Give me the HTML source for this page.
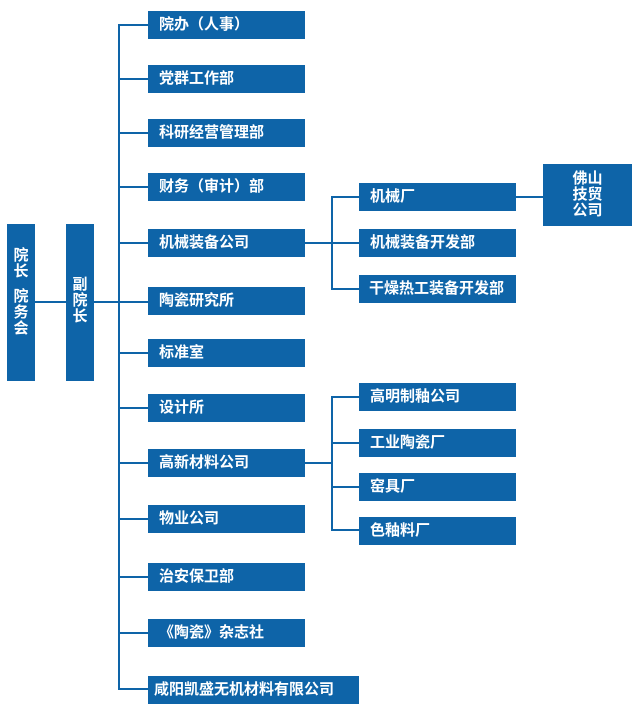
<!DOCTYPE html>
<html><head><meta charset="utf-8"><style>
html,body{margin:0;padding:0;background:#fff;}
body{width:638px;height:713px;position:relative;overflow:hidden;font-family:"Liberation Sans","Noto Sans CJK SC",sans-serif;}
.b{position:absolute;background:#0e64a8;color:#fff;font-weight:bold;font-size:15px;line-height:28px;height:28px;box-sizing:border-box;padding-left:11px;white-space:nowrap;}
.v{position:absolute;background:#0e64a8;color:#fff;font-weight:bold;font-size:15px;line-height:16px;text-align:center;}
.l{position:absolute;background:#0e64a8;}
</style></head><body>
<div class="v" style="left:7px;top:224px;width:28px;height:157px;"><div style="padding-top:24px">院<br>长<br><div style="height:9px"></div>院<br>务<br>会</div></div>
<div class="v" style="left:66px;top:224px;width:28px;height:157px;"><div style="padding-top:53px">副<br>院<br>长</div></div>
<div class="l" style="left:35px;top:301px;width:31px;height:2px;"></div>
<div class="l" style="left:94px;top:301px;width:54px;height:2px;"></div>
<div class="l" style="left:118px;top:24px;width:2px;height:666px;"></div>

<div class="l" style="left:118px;top:24px;width:30px;height:2px;"></div><div class="b" style="left:148px;top:11px;width:157px;">院办（人事）</div>
<div class="l" style="left:118px;top:78px;width:30px;height:2px;"></div><div class="b" style="left:148px;top:65px;width:157px;">党群工作部</div>
<div class="l" style="left:118px;top:132px;width:30px;height:2px;"></div><div class="b" style="left:148px;top:119px;width:157px;">科研经营管理部</div>
<div class="l" style="left:118px;top:186px;width:30px;height:2px;"></div><div class="b" style="left:148px;top:173px;width:157px;">财务（审计）部</div>
<div class="l" style="left:118px;top:242px;width:30px;height:2px;"></div><div class="b" style="left:148px;top:229px;width:157px;">机械装备公司</div>
<div class="b" style="left:148px;top:287px;width:157px;">陶瓷研究所</div>
<div class="l" style="left:118px;top:352px;width:30px;height:2px;"></div><div class="b" style="left:148px;top:339px;width:157px;">标准室</div>
<div class="l" style="left:118px;top:407px;width:30px;height:2px;"></div><div class="b" style="left:148px;top:394px;width:157px;">设计所</div>
<div class="l" style="left:118px;top:462px;width:30px;height:2px;"></div><div class="b" style="left:148px;top:449px;width:157px;">高新材料公司</div>
<div class="l" style="left:118px;top:518px;width:30px;height:2px;"></div><div class="b" style="left:148px;top:505px;width:157px;">物业公司</div>
<div class="l" style="left:118px;top:576px;width:30px;height:2px;"></div><div class="b" style="left:148px;top:563px;width:157px;">治安保卫部</div>
<div class="l" style="left:118px;top:632px;width:30px;height:2px;"></div><div class="b" style="left:148px;top:619px;width:157px;">《陶瓷》杂志社</div>
<div class="l" style="left:118px;top:688px;width:30px;height:2px;"></div><div class="b" style="left:148px;top:676px;width:211px;padding-left:6px;">咸阳凯盛无机材料有限公司</div>

<div class="l" style="left:305px;top:242px;width:27px;height:2px;"></div>
<div class="l" style="left:331px;top:196px;width:2px;height:94px;"></div>
<div class="l" style="left:331px;top:196px;width:28px;height:2px;"></div><div class="b" style="left:359px;top:183px;width:157px;">机械厂</div>
<div class="l" style="left:331px;top:242px;width:28px;height:2px;"></div><div class="b" style="left:359px;top:229px;width:157px;">机械装备开发部</div>
<div class="l" style="left:331px;top:288px;width:28px;height:2px;"></div><div class="b" style="left:359px;top:275px;width:157px;padding-left:10px;">干燥热工装备开发部</div>
<div class="l" style="left:516px;top:196px;width:27px;height:2px;"></div>
<div class="v" style="left:543px;top:164px;width:89px;height:62px;"><div style="padding-top:7px">佛山<br>技贸<br>公司</div></div>

<div class="l" style="left:305px;top:462px;width:27px;height:2px;"></div>
<div class="l" style="left:331px;top:396px;width:2px;height:135px;"></div>
<div class="l" style="left:331px;top:396px;width:28px;height:2px;"></div><div class="b" style="left:359px;top:383px;width:157px;">高明制釉公司</div>
<div class="l" style="left:331px;top:442px;width:28px;height:2px;"></div><div class="b" style="left:359px;top:429px;width:157px;">工业陶瓷厂</div>
<div class="l" style="left:331px;top:486px;width:28px;height:2px;"></div><div class="b" style="left:359px;top:473px;width:157px;">窑具厂</div>
<div class="l" style="left:331px;top:529px;width:28px;height:2px;"></div><div class="b" style="left:359px;top:517px;width:157px;">色釉料厂</div>
</body></html>
